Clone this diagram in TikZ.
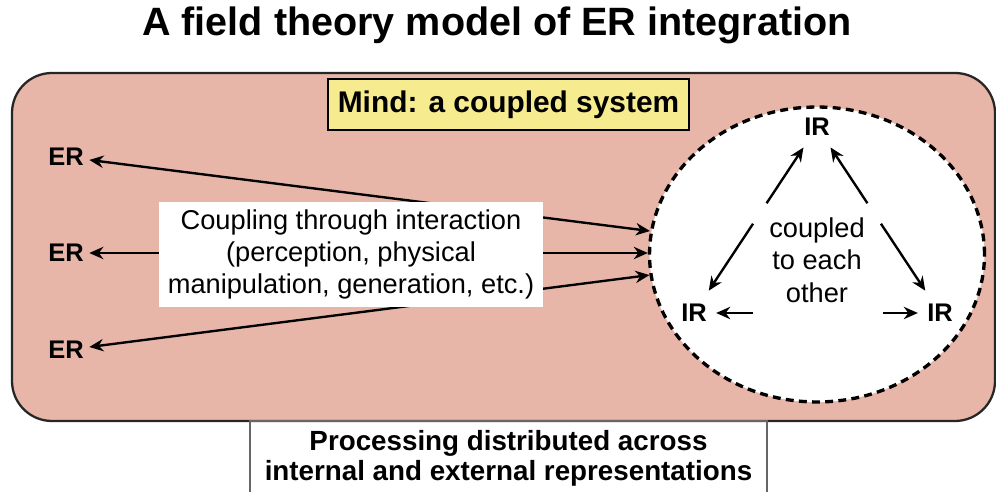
\documentclass[tikz,border=0pt]{standalone}
\usepackage{fontspec}
\setmainfont{Liberation Sans}
\usetikzlibrary{arrows.meta,calc,shapes.geometric}
\definecolor{mindpink}{HTML}{E8B5A9}
\definecolor{mindyellow}{HTML}{F6EB8E}
\tikzstyle{mindbox} = [draw=black!85, fill=mindpink, line width=1.3pt, rounded corners=0.8cm]
\tikzstyle{titlebox} = [rectangle, draw=black, fill=mindyellow, line width=1.3pt, minimum width=7.22cm,
minimum height=1.02cm, font=\fontsize{17}{20}\selectfont\bfseries]
\tikzstyle{rep} = [inner sep=3pt, font=\fontsize{14.5}{17}\selectfont\bfseries]
\tikzstyle{field} = [ellipse, draw=black, fill=white, line width=1.9pt, dash pattern=on 4.5pt off 3pt,
minimum width=6.7cm, minimum height=5.9cm, inner sep=0pt]
\tikzstyle{coupbox} = [rectangle, fill=white, minimum width=7.68cm, minimum height=2.1cm, align=center,
font=\fontsize{15.5}{18}\selectfont]
\tikzstyle{arrow} = [line width=1.35pt, ->, >={Stealth[length=8pt,width=7pt]}]
\tikzstyle{darrow} = [line width=1.35pt, <->, >={Stealth[length=8pt,width=7pt]}]

\begin{document}
\begin{tikzpicture}[x=0.02cm, y=-0.02cm]
        \useasboundingbox (0,0) rectangle (996,492);
        \clip (0,0) rectangle (996,492);

        % Title
        \node[font=\fontsize{22.5}{26}\selectfont\bfseries] (title) at (497,25) {A field theory model of ER integration};

        % Mind
        \draw[mindbox] (12,73) rectangle (995,421);
        \node[titlebox] (mind) at (508.5,104.5) {Mind: a coupled system};
        \node[field] (circ) at (817,254.5) {};

        % External representations
        \node[rep] (er1) at (66,157) {ER};
        \node[rep] (er2) at (66,253) {ER};
        \node[rep] (er3) at (66,350) {ER};

        % Arrows
        \draw[darrow] (er1) -- (circ.172.7);
        \draw[darrow] (er2) -- (er2 -| circ.west);
        \draw[darrow] (er3) -- (circ.187.7);

        \node[coupbox] (coup) at (351,254.5) {Coupling through interaction\\(perception, physical\\manipulation, generation, etc.)};

        % Internal representations
        \node[rep] (irT) at (817,127) {IR};
        \node[rep] (irL) at (694,313) {IR};
        \node[rep] (irR) at (940,313) {IR};
        \node[align=center, font=\fontsize{15.5}{18.4}\selectfont] (cpl) at (817,260) {coupled\\to each\\other};

        \draw[arrow] ($(irT)!0.41!(irL)$) -- ($(irT)!0.11!(irL)$);
        \draw[arrow] ($(irT)!0.52!(irL)$) -- ($(irT)!0.88!(irL)$);
        \draw[arrow] ($(irT)!0.41!(irR)$) -- ($(irT)!0.11!(irR)$);
        \draw[arrow] ($(irT)!0.52!(irR)$) -- ($(irT)!0.88!(irR)$);
        \draw[arrow] ($(irL)!0.24!(irR)$) -- ($(irL)!0.09!(irR)$);
        \draw[arrow] ($(irL)!0.77!(irR)$) -- ($(irL)!0.91!(irR)$);

        % Bottom label
        \draw[draw=black!60, line width=0.8pt] (250,421) rectangle (767,520);
        \node[align=center, font=\fontsize{15.8}{17}\selectfont\bfseries] (proc) at (508.5,458) {Processing distributed across\\internal and external representations};

    \end{tikzpicture}
\end{document}
